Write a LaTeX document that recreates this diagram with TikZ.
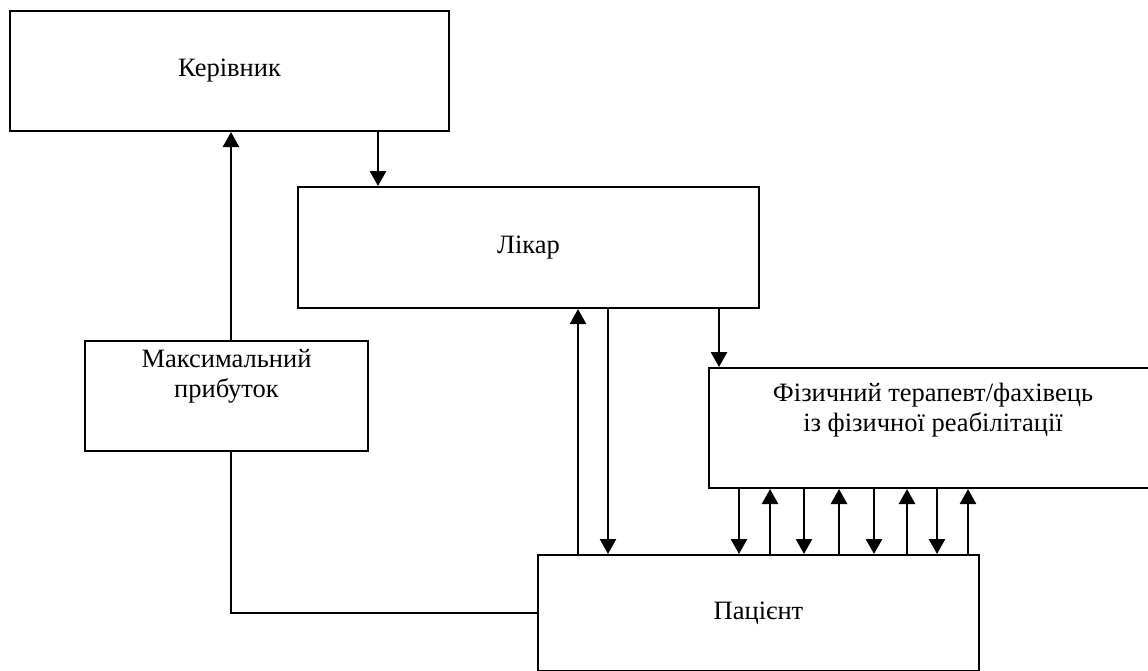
\documentclass[tikz,border=0pt]{standalone}
\usepackage{fontspec}
\setmainfont{Liberation Serif}
\usetikzlibrary{arrows.meta}
\begin{document}
\begin{tikzpicture}[x=1pt,y=-1pt,
  box/.style={draw, line width=2pt, rectangle, inner sep=0pt, fill=white},
  lbl/.style={align=center, font=\fontsize{26.5}{30}\selectfont, inner sep=0pt},
  arr/.style={line width=2.5pt, -{Triangle[width=16pt,length=15pt]}},
  ln/.style={line width=2.5pt}]
\useasboundingbox (0,0) rectangle (1148,670);
\clip (0,0) rectangle (1148,670);
\node[box, minimum width=439pt, minimum height=120pt] (ker) at (229.5,71) {};
\node[lbl] at (ker.center) {Керівник};
\node[box, minimum width=461pt, minimum height=121pt] (lik) at (528.5,247.5) {};
\node[lbl] at (lik.center) {Лікар};
\node[box, minimum width=283pt, minimum height=110pt] (max) at (226.5,396) {};
\node[lbl, anchor=north] at ([yshift=-9pt]max.north) {Максимальний\\прибуток};
\node[box, minimum width=448pt, minimum height=120pt] (fiz) at (933,428) {};
\node[lbl, anchor=north] at ([yshift=-16pt]fiz.north) {Фізичний терапевт/фахівець\\із фізичної реабілітації};
\node[box, minimum width=441pt, minimum height=116pt] (pac) at (758.5,613) {};
\node[lbl] at (pac.center) {Пацієнт};
\draw[arr] (378,0 |- ker.south) -- (378,0 |- lik.north);
\draw[arr] (231,0 |- max.north) -- (231,0 |- ker.south);
\draw[ln] (231,0 |- max.south) |- (pac.west);
\draw[arr] (578,0 |- pac.north) -- (578,0 |- lik.south);
\draw[arr] (608,0 |- lik.south) -- (608,0 |- pac.north);
\draw[arr] (719,0 |- lik.south) -- (719,0 |- fiz.north);
\foreach \x in {739,804,874,937} \draw[arr] (\x,0 |- fiz.south) -- (\x,0 |- pac.north);
\foreach \x in {770,839,907,968} \draw[arr] (\x,0 |- pac.north) -- (\x,0 |- fiz.south);
\end{tikzpicture}
\end{document}
